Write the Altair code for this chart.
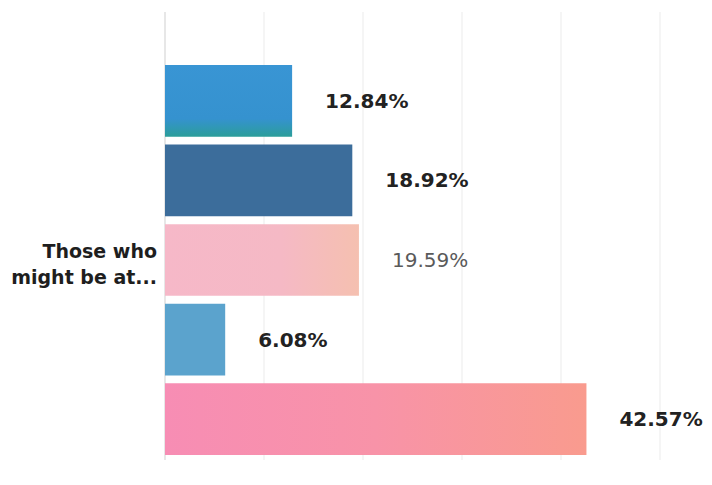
import altair as alt
import pandas as pd

category = "Those who might be at..."
series = ["Group 1", "Group 2", "Group 3", "Group 4", "Group 5"]
values = [12.84, 18.92, 19.59, 6.08, 42.57]
labels = ["12.84%", "18.92%", "19.59%", "6.08%", "42.57%"]
label_colors = ["#222222", "#222222", "#5a5a5a", "#222222", "#222222"]
label_weights = ["bold", "bold", "normal", "bold", "bold"]
fills = [
    alt.Gradient(gradient="linear", x1=0, y1=0, x2=0, y2=1,
                 stops=[alt.GradientStop(color="#3995d4", offset=0),
                        alt.GradientStop(color="#3592cf", offset=0.75),
                        alt.GradientStop(color="#2b9e9a", offset=1)]),
    "#3c6d9b",
    alt.Gradient(gradient="linear", x1=0, y1=0, x2=1, y2=0,
                 stops=[alt.GradientStop(color="#f6b8c8", offset=0),
                        alt.GradientStop(color="#f5b9c5", offset=0.6),
                        alt.GradientStop(color="#f5c0b0", offset=1)]),
    "#5ba3cd",
    alt.Gradient(gradient="linear", x1=0, y1=0, x2=1, y2=0,
                 stops=[alt.GradientStop(color="#f78db4", offset=0),
                        alt.GradientStop(color="#f893a8", offset=0.5),
                        alt.GradientStop(color="#f99b8e", offset=1)]),
]

df = pd.DataFrame({
    "category": [category] * len(series),
    "series": series,
    "value": values,
    "label": labels,
})

base = alt.Chart(df)

xscale = alt.Scale(domain=[0, 50], nice=False)
yscale = alt.Scale(domain=series, range=[53, 443], paddingInner=0.1, paddingOuter=0)

grid_vals = [0, 10, 20, 30, 40, 50]
grid_df = pd.DataFrame({"g": grid_vals})
grid = alt.Chart(grid_df).mark_rule(strokeWidth=1).encode(
    x=alt.X("g:Q", scale=xscale, axis=None),
    y=alt.value(0), y2=alt.value(448),
    color=alt.condition("datum.g == 0", alt.value("#cfcfcf"), alt.value("#ebebeb")),
)

layers = [grid]
for s, f in zip(series, fills):
    layers.append(
        base.transform_filter(alt.datum.series == s).mark_bar(fill=f).encode(
            x=alt.X("value:Q", scale=xscale, axis=None),
            y=alt.Y("series:N", scale=yscale, axis=None),
        )
    )

for s, c, w in zip(series, label_colors, label_weights):
    layers.append(
        base.transform_filter(alt.datum.series == s).mark_text(
            align="left", baseline="middle", dx=33, dy=1,
            font="DejaVu Sans", fontSize=20, fontWeight=w, color=c,
        ).encode(
            x=alt.X("value:Q", scale=xscale, axis=None),
            y=alt.Y("series:N", scale=yscale, axis=None),
            text="label:N",
        )
    )

ylab = alt.Chart(pd.DataFrame({"t": ["Those who\nmight be at..."]})).mark_text(
    align="right", baseline="middle", lineBreak="\n", lineHeight=26,
    font="DejaVu Sans", fontSize=19, fontWeight="bold", color="#1e1e1e",
).encode(
    x=alt.value(-8), y=alt.value(240), text="t:N",
)
layers.append(ylab)

chart = alt.layer(*layers).properties(
    width=495, height=448,
    autosize=alt.AutoSizeParams(type="none"),
    padding={"left": 157, "top": 4, "right": 44, "bottom": 10},
).configure_view(stroke=None)

chart.save("out.html", embed_options={"renderer": "svg", "actions": False})
